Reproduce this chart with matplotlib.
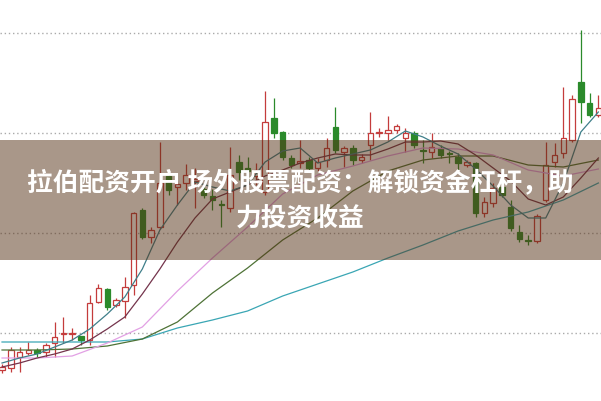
import numpy as np
import matplotlib.pyplot as plt
from matplotlib.patches import Rectangle

plt.rcParams['font.family'] = ['Noto Sans CJK SC', 'DejaVu Sans']

# daily candles, values (no price axis shown)
opens = [6.3, 6.5, 7.6, 8.0, 8.3, 8.1, 9.0, 9.9, 9.9, 9.7, 9.3, 13.1, 14.4, 12.8, 13.2,
         14.8, 22.3, 19.6, 20.6, 25.7, 24.6, 25.0, 25.2, 24.4, 23.7, 22.9, 22.5, 27.1,
         26.5, 25.7, 24.1, 31.5, 30.1, 27.5, 27.0, 27.3, 26.5, 27.3, 30.6, 28.1, 28.5,
         27.3, 28.8, 30.0, 30.0, 30.3, 29.5, 30.0, 28.3, 28.1, 28.5, 28.0, 27.6, 26.8,
         27.0, 22.0, 23.0, 24.6, 22.6, 20.1, 19.3, 19.2, 23.3, 27.1, 28.0, 29.3, 35.1,
         33.0, 31.8]
highs = [6.9, 8.6, 8.6, 9.1, 8.5, 9.0, 11.1, 11.6, 10.5, 9.7, 13.8, 14.9, 14.5, 13.5, 15.6,
         22.1, 22.5, 20.6, 29.1, 26.1, 25.2, 26.9, 26.5, 24.7, 24.4, 23.3, 28.6, 27.8,
         27.6, 27.0, 34.2, 33.5, 30.2, 27.8, 29.3, 27.6, 27.5, 29.5, 32.6, 28.7, 28.8,
         27.9, 32.1, 30.5, 31.7, 30.9, 30.5, 30.2, 29.3, 30.0, 28.8, 28.2, 28.0, 27.3,
         27.1, 23.6, 25.0, 25.3, 23.3, 20.8, 19.8, 21.9, 29.1, 29.0, 34.6, 33.8, 40.3,
         34.0, 33.8]
lows = [6.0, 6.1, 6.1, 7.8, 7.6, 7.6, 7.6, 9.0, 9.3, 8.8, 8.8, 13.0, 12.3, 12.6, 11.5,
        13.8, 19.4, 19.0, 20.4, 23.8, 22.8, 24.3, 22.5, 23.5, 22.3, 20.6, 22.1, 25.3,
        25.1, 24.8, 23.8, 29.5, 27.3, 26.5, 26.5, 26.2, 26.2, 26.6, 28.0, 26.6, 26.8,
        27.0, 27.3, 29.6, 29.3, 30.0, 28.1, 28.5, 27.0, 27.5, 27.5, 27.0, 26.3, 26.6,
        21.6, 21.6, 22.6, 23.6, 20.2, 19.1, 18.8, 19.0, 23.1, 26.6, 27.5, 29.1, 31.0,
        31.6, 31.6]
closes = [6.6, 8.3, 8.1, 8.3, 8.0, 8.8, 9.6, 10.0, 10.0, 9.3, 13.0, 14.5, 12.6, 13.3, 14.6,
          22.0, 19.6, 20.3, 25.0, 24.3, 24.9, 25.8, 25.4, 23.8, 23.3, 22.8, 25.8, 26.1,
          26.2, 26.3, 31.1, 30.0, 27.6, 26.8, 27.2, 26.5, 27.1, 28.5, 28.3, 28.5, 27.3,
          27.6, 30.0, 30.1, 30.3, 30.7, 30.0, 28.8, 28.2, 28.6, 27.8, 27.9, 27.0, 27.1,
          22.0, 23.1, 24.5, 23.8, 20.5, 19.4, 19.2, 21.7, 26.8, 27.8, 29.5, 33.4, 33.1,
          31.8, 32.5]

# moving average lines, read every 2nd / 4th candle
ma5 = [7.0, 7.5, 7.9, 8.6, 9.3, 10.4, 11.9, 13.6, 16.4, 20.3, 22.8, 25.1, 24.6, 24.2,
       24.8, 27.1, 28.2, 28.5, 27.0, 27.5, 27.9, 28.3, 29.1, 30.2, 29.6, 28.7, 27.9,
       26.4, 24.7, 22.8, 21.5, 21.5, 25.0, 30.1, 32.1]
ma10 = [6.6, 7.0, 7.5, 7.9, 8.4, 9.3, 10.4, 11.6, 13.9, 16.4, 19.1, 21.5, 23.4, 24.1,
        24.8, 25.7, 26.3, 27.0, 27.5, 27.9, 27.8, 27.8, 28.4, 29.1, 29.1, 29.2, 28.9,
        27.8, 26.5, 25.2, 23.4, 22.8, 23.6, 25.5, 27.5]
ma20 = [7.5, 7.5, 7.7, 9.0, 10.6, 14.2, 17.5, 20.6, 23.9, 25.8, 26.7, 27.7, 28.5, 28.4,
        27.8, 26.3, 25.7, 26.4]
ma30 = [8.3, 8.3, 8.4, 8.7, 9.4, 11.1, 14.0, 16.5, 19.3, 21.5, 24.2, 26.2, 27.3, 27.7,
        27.7, 26.8, 26.6, 27.3]
ma60 = [9.1, 9.1, 9.1, 9.1, 9.4, 10.5, 11.3, 12.2, 13.7, 14.9, 16.1, 17.5, 18.8, 20.2,
        21.3, 22.1, 23.3, 25.0]

title_lines = ['拉伯配资开户 场外股票配资：解锁资金杠杆，助', '力投资收益']

RED = '#c43c3c'
GREEN = '#2b8a2b'

o = np.array(opens)
h = np.array(highs)
l = np.array(lows)
c = np.array(closes)
idx = np.arange(len(c))
up = c >= o

fig = plt.figure(figsize=(6.01, 4.01), dpi=100)
ax = fig.add_axes([0, 0, 1, 1])

# dotted grid
for g in [10, 20, 30, 40]:
    ax.axhline(g, color='#aaaaaa', lw=1, ls=(0, (1, 2)), zorder=1)

# wicks
ax.vlines(idx[up], l[up], h[up], color=RED, lw=0.9, zorder=2)
ax.vlines(idx[~up], l[~up], h[~up], color=GREEN, lw=0.9, zorder=2)

# bodies
body_lo = np.minimum(o, c)
body_h = np.maximum(np.abs(c - o), 0.08)
ax.bar(idx[up], body_h[up], bottom=body_lo[up], width=0.62,
       facecolor='white', edgecolor=RED, linewidth=0.9, zorder=3)
ax.bar(idx[~up], body_h[~up], bottom=body_lo[~up], width=0.62,
       facecolor=GREEN, edgecolor=GREEN, linewidth=0.9, zorder=3)

# moving averages
x2 = np.arange(0, 69, 2)
x4 = np.arange(0, 69, 4)
ax.plot(x4, ma60, color='#3aa6b4', lw=0.9, zorder=4)
ax.plot(x4, ma30, color='#4e7236', lw=0.9, zorder=4)
ax.plot(x4, ma20, color='#e2a0e4', lw=0.9, zorder=4)
ax.plot(x2, ma10, color='#74344c', lw=0.9, zorder=4)
ax.plot(x2, ma5, color='#3f7f8a', lw=0.9, zorder=4)

ax.set_xlim(-0.23, 68.3)
ax.set_ylim(3.2, 43.3)
ax.axis('off')

# translucent banner with headline
ax.add_patch(Rectangle((0, 1 - 260 / 401), 1, 120 / 401, transform=ax.transAxes,
                       facecolor='#553014', alpha=0.5, edgecolor='none', zorder=10))
ax.text(0.5, 1 - 183 / 401, title_lines[0], transform=ax.transAxes, ha='center',
        va='center', color='white', fontsize=18.5, fontweight='bold', zorder=11)
ax.text(0.5, 1 - 218 / 401, title_lines[1], transform=ax.transAxes, ha='center',
        va='center', color='white', fontsize=18.5, fontweight='bold', zorder=11)

fig.savefig('out.png', dpi=100)
